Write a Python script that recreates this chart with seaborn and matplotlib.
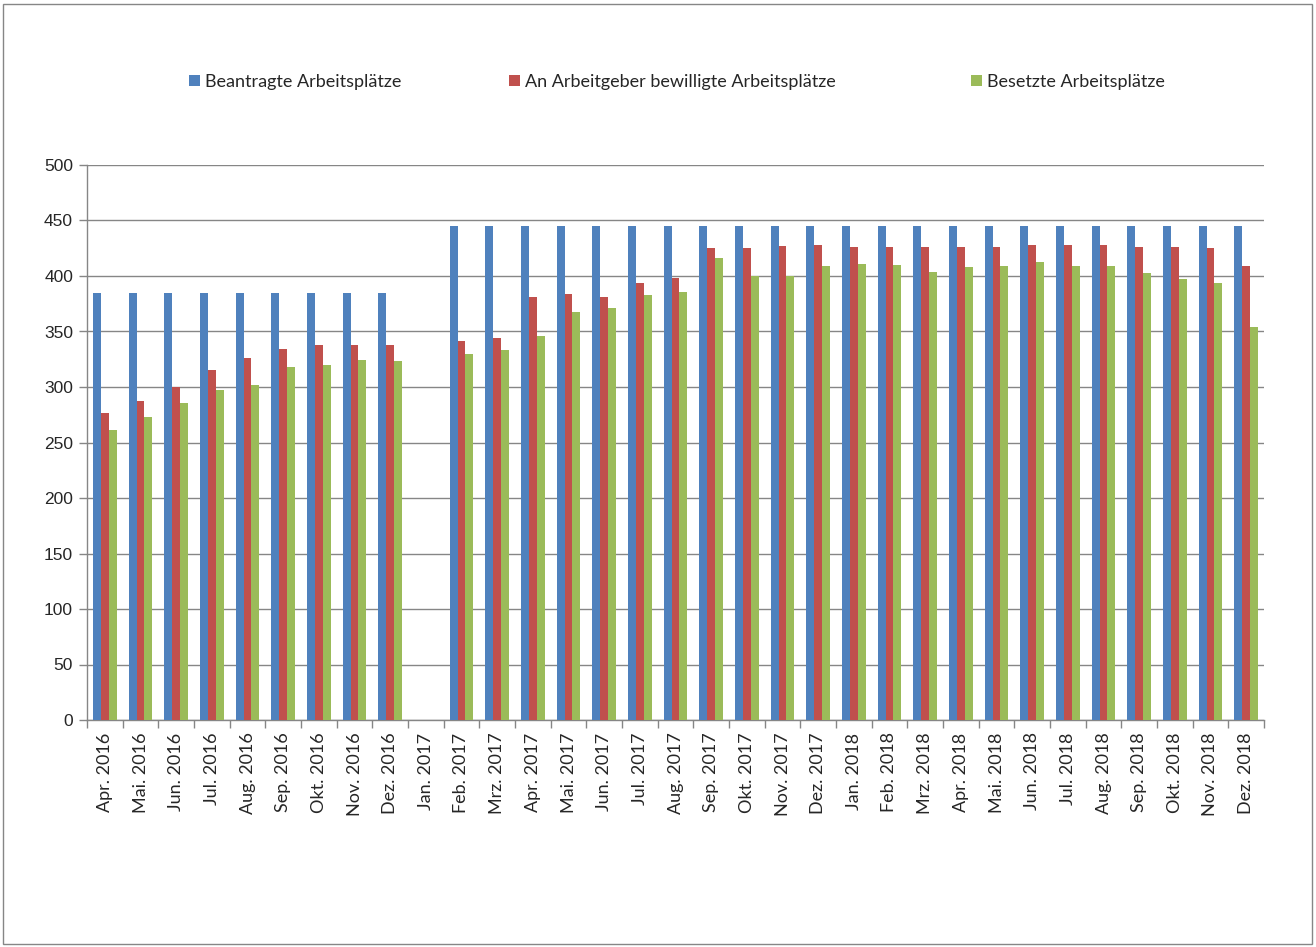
import matplotlib
matplotlib.use("Agg")
import matplotlib.pyplot as plt
import seaborn as sns
import pandas as pd
import numpy as np
from matplotlib.patches import Rectangle

months = ["Apr. 2016", "Mai. 2016", "Jun. 2016", "Jul. 2016", "Aug. 2016", "Sep. 2016",
          "Okt. 2016", "Nov. 2016", "Dez. 2016", "Jan. 2017", "Feb. 2017", "Mrz. 2017",
          "Apr. 2017", "Mai. 2017", "Jun. 2017", "Jul. 2017", "Aug. 2017", "Sep. 2017",
          "Okt. 2017", "Nov. 2017", "Dez. 2017", "Jan. 2018", "Feb. 2018", "Mrz. 2018",
          "Apr. 2018", "Mai. 2018", "Jun. 2018", "Jul. 2018", "Aug. 2018", "Sep. 2018",
          "Okt. 2018", "Nov. 2018", "Dez. 2018"]

beantragt = [385, 385, 385, 385, 385, 385, 385, 385, 385, None,
             445, 445, 445, 445, 445, 445, 445, 445, 445, 445, 445,
             445, 445, 445, 445, 445, 445, 445, 445, 445, 445, 445, 445]
bewilligt = [277, 287, 300, 315, 326, 334, 338, 338, 338, None,
             341, 344, 381, 384, 381, 394, 398, 425, 425, 427, 428,
             426, 426, 426, 426, 426, 428, 428, 428, 426, 426, 425, 409]
besetzt = [261, 273, 286, 297, 302, 318, 320, 324, 323, None,
           330, 333, 346, 368, 371, 383, 386, 416, 400, 400, 409,
           411, 410, 404, 408, 409, 413, 409, 409, 403, 397, 394, 354]

series_names = ["Beantragte Arbeitsplätze",
                "An Arbeitgeber bewilligte Arbeitsplätze",
                "Besetzte Arbeitsplätze"]
colors = ["#4F81BD", "#C0504D", "#9BBB59"]

rows = []
for name, vals in zip(series_names, [beantragt, bewilligt, besetzt]):
    for m, v in zip(months, vals):
        if v is not None:
            rows.append({"Monat": m, "Wert": v, "Reihe": name})
df = pd.DataFrame(rows)

sns.set_style("white")
plt.rcParams["font.family"] = ["Lato", "DejaVu Sans"]

fig = plt.figure(figsize=(13.16, 9.47), dpi=100)
ax = fig.add_axes([87 / 1316, 1 - 720 / 947, (1264 - 87) / 1316, (720 - 165) / 947])

sns.barplot(data=df, x="Monat", y="Wert", hue="Reihe", order=months,
            hue_order=series_names, palette=colors, errorbar=None,
            width=0.667, ax=ax, saturation=1, edgecolor="none", zorder=3)

ax.set_xlim(-0.5, len(months) - 0.5)
ax.set_ylim(0, 500)
ax.set_yticks(np.arange(0, 501, 50))
ax.set_yticklabels([str(v) for v in range(0, 501, 50)], fontsize=12.5,
                   family=["Liberation Sans"])
ax.yaxis.grid(True, color="#868686", linewidth=1, zorder=0)
ax.set_axisbelow(True)

ax.set_xticks(np.arange(len(months)))
ax.set_xticklabels(months, rotation=90, fontsize=13)
ax.tick_params(axis="x", length=0, pad=9)
ax.tick_params(axis="y", length=6, color="#868686", width=1, pad=4, direction="out",
               left=True)
ax.set_xticks(np.arange(-0.5, len(months), 1), minor=True)
ax.tick_params(axis="x", which="minor", length=6, color="#868686", width=1,
               direction="out", bottom=True)

for s in ["top", "right"]:
    ax.spines[s].set_visible(False)
for s in ["left", "bottom"]:
    ax.spines[s].set_color("#868686")
    ax.spines[s].set_linewidth(1)

ax.set_xlabel("")
ax.set_ylabel("")

handles, labels = ax.get_legend_handles_labels()
if ax.legend_:
    ax.legend_.remove()
legend_x = [189, 509, 971]
for h, l, x in zip(handles, labels, legend_x):
    lg = fig.legend([h], [l], loc="center left", bbox_to_anchor=(x / 1316, 1 - 82 / 947),
                    frameon=False, fontsize=13, handlelength=0.6, handleheight=0.6,
                    handletextpad=0.3, borderpad=0, borderaxespad=0)

fig.patches.append(Rectangle((3 / 1316, 3 / 947), 1309 / 1316, 940 / 947,
                             transform=fig.transFigure, fill=False,
                             edgecolor="#868686", linewidth=1))

fig.savefig("out.png", dpi=100)
